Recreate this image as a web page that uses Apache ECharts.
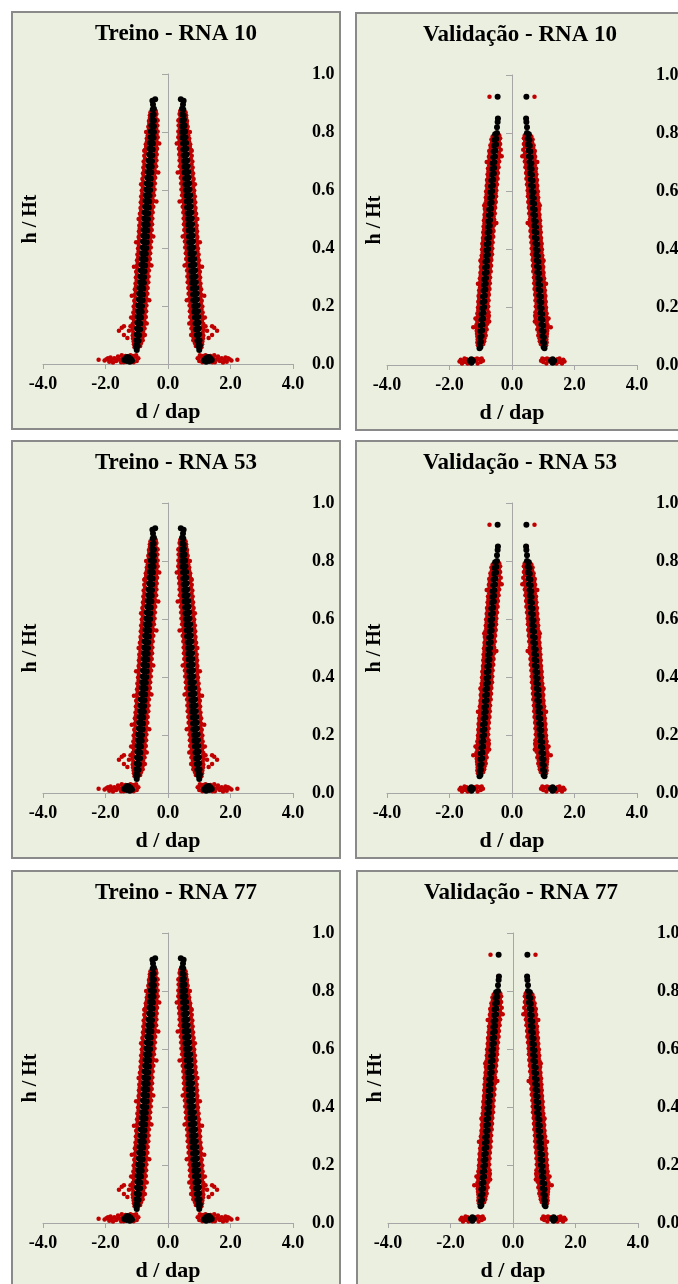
<!DOCTYPE html>
<html>
<head>
<meta charset="utf-8">
<script src="https://cdn.jsdelivr.net/npm/echarts@6/dist/echarts.min.js"></script>
<style>
  html, body { margin: 0; padding: 0; background: #fff; overflow: hidden; width: 678px; height: 1284px; }
  .painel { position: absolute; width: 330px; height: 419px; box-sizing: border-box; border: 2px solid #8a8a8a; background: #ebefdf; }
  .painel .grafico { position: absolute; left: 0; top: 0; width: 326px; height: 415px; }
</style>
</head>
<body>
<div class="painel" style="left:11px;top:11px"><div class="grafico" id="g1"></div></div>
<div class="painel" style="left:355px;top:12px"><div class="grafico" id="g2"></div></div>
<div class="painel" style="left:11px;top:440px"><div class="grafico" id="g3"></div></div>
<div class="painel" style="left:355px;top:440px"><div class="grafico" id="g4"></div></div>
<div class="painel" style="left:11px;top:870px"><div class="grafico" id="g5"></div></div>
<div class="painel" style="left:356px;top:870px"><div class="grafico" id="g6"></div></div>
<script>
// perfil do fuste: pontos de um lado (d/dap > 0), o outro lado é o espelho
var titulos = ['Treino - RNA 10', 'Validação - RNA 10', 'Treino - RNA 53', 'Validação - RNA 53', 'Treino - RNA 77', 'Validação - RNA 77'];
var ticksX = [-4, -2, 0, 2, 4];
var ticksY = [0, 0.2, 0.4, 0.6, 0.8, 1.0];

// observado - treino (vermelho)
var treinoObs = [
  [0.39,0.872],[0.56,0.868],[0.37,0.862],[0.58,0.858],[0.40,0.852],[0.58,0.848],[0.36,0.842],[0.61,0.838],
  [0.39,0.832],[0.60,0.828],[0.34,0.822],[0.63,0.818],[0.38,0.812],[0.61,0.808],[0.33,0.802],[0.65,0.798],
  [0.37,0.792],[0.65,0.788],[0.33,0.782],[0.68,0.778],[0.37,0.772],[0.67,0.768],[0.34,0.762],[0.71,0.758],
  [0.38,0.752],[0.70,0.748],[0.35,0.742],[0.74,0.738],[0.39,0.732],[0.71,0.728],[0.36,0.722],[0.76,0.718],
  [0.40,0.712],[0.73,0.708],[0.37,0.702],[0.78,0.698],[0.42,0.692],[0.75,0.688],[0.38,0.682],[0.79,0.678],
  [0.43,0.672],[0.76,0.668],[0.39,0.662],[0.80,0.658],[0.44,0.652],[0.78,0.648],[0.41,0.642],[0.82,0.638],
  [0.46,0.632],[0.79,0.628],[0.42,0.622],[0.83,0.618],[0.47,0.612],[0.80,0.608],[0.43,0.602],[0.84,0.598],
  [0.48,0.592],[0.82,0.588],[0.45,0.582],[0.86,0.578],[0.50,0.572],[0.83,0.568],[0.46,0.562],[0.87,0.558],
  [0.51,0.552],[0.84,0.548],[0.47,0.542],[0.88,0.538],[0.52,0.532],[0.86,0.528],[0.49,0.522],[0.90,0.518],
  [0.54,0.512],[0.87,0.508],[0.50,0.502],[0.91,0.498],[0.55,0.492],[0.88,0.488],[0.51,0.482],[0.92,0.478],
  [0.56,0.472],[0.90,0.468],[0.52,0.462],[0.93,0.458],[0.57,0.452],[0.91,0.448],[0.53,0.442],[0.94,0.438],
  [0.58,0.432],[0.92,0.428],[0.54,0.422],[0.95,0.418],[0.59,0.412],[0.93,0.408],[0.55,0.402],[0.96,0.398],
  [0.61,0.392],[0.94,0.388],[0.57,0.382],[0.98,0.378],[0.62,0.372],[0.95,0.368],[0.58,0.362],[0.99,0.358],
  [0.63,0.352],[0.97,0.348],[0.59,0.342],[1.00,0.338],[0.65,0.332],[0.98,0.328],[0.61,0.322],[1.02,0.318],
  [0.66,0.312],[0.99,0.308],[0.62,0.302],[1.03,0.298],[0.67,0.292],[1.00,0.288],[0.63,0.282],[1.04,0.278],
  [0.69,0.272],[1.02,0.268],[0.65,0.262],[1.06,0.258],[0.70,0.252],[1.03,0.248],[0.66,0.242],[1.07,0.238],
  [0.71,0.232],[1.04,0.228],[0.67,0.222],[1.08,0.218],[0.72,0.212],[1.05,0.208],[0.69,0.202],[1.10,0.198],
  [0.74,0.192],[1.07,0.188],[0.70,0.182],[1.11,0.178],[0.75,0.172],[1.08,0.168],[0.71,0.162],[1.12,0.158],
  [0.76,0.152],[1.09,0.148],[0.73,0.142],[1.13,0.138],[0.78,0.132],[1.11,0.128],[0.75,0.122],[1.14,0.118],
  [0.80,0.112],[1.11,0.108],[0.77,0.102],[1.13,0.098],[0.82,0.092],[1.12,0.088],[0.81,0.082],[1.10,0.078],
  [0.86,0.072],[1.09,0.068],[0.89,0.062],[1.07,0.058],
  [0.28,0.76],[0.76,0.735],[0.31,0.66],[0.86,0.62],[0.37,0.56],[0.94,0.50],[0.47,0.44],[1.02,0.42],
  [0.53,0.34],[1.09,0.335],[0.60,0.22],[1.16,0.235],[0.68,0.14],[0.74,0.10],[1.18,0.16],[0.33,0.84],[0.70,0.80],
  [1.25,0.115],[1.41,0.13],[1.57,0.115],[1.41,0.10],[1.30,0.09],[1.48,0.125],[1.20,0.13],
  [0.95,0.02],[1.00,0.01],[1.05,0.025],[1.10,0.006],[1.15,0.02],[1.20,0.03],[1.28,0.012],[1.36,0.028],
  [1.45,0.02],[1.50,0.006],[1.55,0.016],[1.60,0.026],[1.66,0.01],[1.72,0.02],[1.80,0.014],[1.88,0.008],
  [1.97,0.016],[2.22,0.015],[1.42,0.006],[1.76,0.005],[1.02,0.03],[1.12,0.028],[1.48,0.03],[1.62,0.015],
  [1.84,0.022],[1.92,0.02],[2.03,0.012]
];

// estimado pela RNA - treino (preto)
var treinoPred = [
  [0.41,0.913],[0.50,0.908],[0.48,0.895],
  [0.45,0.88],[0.49,0.878],[0.46,0.86],[0.50,0.858],[0.45,0.84],[0.48,0.838],[0.51,0.842],
  [0.45,0.82],[0.49,0.818],[0.53,0.822],[0.45,0.80],[0.50,0.798],[0.55,0.802],[0.46,0.78],[0.51,0.778],[0.56,0.782],
  [0.48,0.76],[0.53,0.758],[0.58,0.762],[0.49,0.74],[0.54,0.738],[0.59,0.742],[0.50,0.72],[0.55,0.718],[0.60,0.722],
  [0.51,0.70],[0.57,0.698],[0.62,0.702],[0.52,0.68],[0.58,0.678],[0.63,0.682],[0.53,0.66],[0.59,0.658],[0.65,0.662],
  [0.55,0.64],[0.61,0.638],[0.66,0.642],[0.56,0.62],[0.62,0.618],[0.68,0.622],[0.57,0.60],[0.63,0.598],[0.69,0.602],
  [0.59,0.58],[0.65,0.578],[0.71,0.582],[0.60,0.56],[0.66,0.558],[0.72,0.562],[0.61,0.54],[0.67,0.538],[0.73,0.542],
  [0.63,0.52],[0.69,0.518],[0.75,0.522],[0.64,0.50],[0.70,0.498],[0.76,0.502],[0.65,0.48],[0.71,0.478],[0.77,0.482],
  [0.66,0.46],[0.72,0.458],[0.78,0.462],[0.67,0.44],[0.73,0.438],[0.79,0.442],[0.68,0.42],[0.74,0.418],[0.80,0.422],
  [0.69,0.40],[0.75,0.398],[0.81,0.402],[0.71,0.38],[0.77,0.378],[0.83,0.382],[0.72,0.36],[0.78,0.358],[0.84,0.362],
  [0.73,0.34],[0.79,0.338],[0.85,0.342],[0.75,0.32],[0.81,0.318],[0.87,0.322],[0.76,0.30],[0.82,0.298],[0.88,0.302],
  [0.77,0.28],[0.83,0.278],[0.89,0.282],[0.79,0.26],[0.85,0.258],[0.91,0.262],[0.80,0.24],[0.86,0.238],[0.92,0.242],
  [0.81,0.22],[0.87,0.218],[0.93,0.222],[0.83,0.20],[0.89,0.198],[0.95,0.202],[0.84,0.18],[0.90,0.178],[0.96,0.182],
  [0.86,0.16],[0.91,0.158],[0.97,0.162],[0.88,0.14],[0.93,0.138],[0.98,0.142],[0.89,0.12],[0.94,0.118],[0.99,0.122],
  [0.92,0.10],[0.96,0.098],[1.00,0.102],[0.94,0.08],[0.97,0.078],[1.01,0.082],[0.97,0.062],[1.00,0.058],[1.02,0.064],
  [1.00,0.048],
  [1.15,0.012],[1.20,0.018],[1.25,0.022],[1.30,0.024],[1.35,0.02],[1.40,0.014],[1.22,0.008],[1.32,0.01],[1.27,0.015]
];

// observado - validação (vermelho)
var validObs = [
  [0.72,0.925],[0.47,0.85],
  [0.41,0.792],[0.62,0.788],[0.38,0.782],[0.66,0.778],[0.42,0.772],[0.64,0.768],[0.38,0.762],[0.69,0.758],
  [0.42,0.752],[0.68,0.748],[0.36,0.742],[0.73,0.738],[0.42,0.732],[0.71,0.728],[0.38,0.722],[0.74,0.718],
  [0.44,0.712],[0.72,0.708],[0.41,0.702],[0.76,0.698],[0.46,0.692],[0.73,0.688],[0.43,0.682],[0.77,0.678],
  [0.48,0.672],[0.75,0.668],[0.45,0.662],[0.78,0.658],[0.49,0.652],[0.76,0.648],[0.46,0.642],[0.80,0.638],
  [0.51,0.632],[0.78,0.628],[0.48,0.622],[0.81,0.618],[0.52,0.612],[0.79,0.608],[0.50,0.602],[0.83,0.598],
  [0.53,0.592],[0.81,0.588],[0.51,0.582],[0.84,0.578],[0.55,0.572],[0.82,0.568],[0.52,0.562],[0.85,0.558],
  [0.56,0.552],[0.84,0.548],[0.54,0.542],[0.87,0.538],[0.58,0.532],[0.85,0.528],[0.55,0.522],[0.88,0.518],
  [0.59,0.512],[0.87,0.508],[0.57,0.502],[0.90,0.498],[0.61,0.492],[0.88,0.488],[0.58,0.482],[0.91,0.478],
  [0.62,0.472],[0.89,0.468],[0.59,0.462],[0.92,0.458],[0.63,0.452],[0.90,0.448],[0.60,0.442],[0.93,0.438],
  [0.65,0.432],[0.92,0.428],[0.62,0.422],[0.95,0.418],[0.66,0.412],[0.93,0.408],[0.63,0.402],[0.96,0.398],
  [0.67,0.392],[0.94,0.388],[0.64,0.382],[0.97,0.378],[0.68,0.372],[0.96,0.368],[0.66,0.362],[0.99,0.358],
  [0.70,0.352],[0.97,0.348],[0.67,0.342],[1.00,0.338],[0.71,0.332],[0.98,0.328],[0.68,0.322],[1.01,0.318],
  [0.73,0.312],[1.00,0.308],[0.70,0.302],[1.03,0.298],[0.74,0.292],[1.01,0.288],[0.71,0.282],[1.04,0.278],
  [0.75,0.272],[1.02,0.268],[0.72,0.262],[1.05,0.258],[0.76,0.252],[1.04,0.248],[0.74,0.242],[1.07,0.238],
  [0.78,0.232],[1.05,0.228],[0.75,0.222],[1.08,0.218],[0.79,0.212],[1.06,0.208],[0.76,0.202],[1.09,0.198],
  [0.80,0.192],[1.08,0.188],[0.75,0.182],[1.11,0.178],[0.81,0.172],[1.09,0.168],[0.76,0.162],[1.13,0.158],
  [0.83,0.152],[1.11,0.148],[0.79,0.142],[1.14,0.138],[0.84,0.132],[1.12,0.128],[0.81,0.122],[1.13,0.118],
  [0.86,0.112],[1.12,0.108],[0.84,0.102],[1.11,0.098],[0.88,0.092],[1.10,0.088],[0.89,0.082],[1.11,0.078],
  [0.92,0.072],[1.09,0.068],
  [0.33,0.72],[0.81,0.70],[0.89,0.55],[0.50,0.49],[1.01,0.36],[1.09,0.28],[1.17,0.16],[1.24,0.13],
  [0.73,0.15],[0.74,0.17],
  [0.93,0.015],[1.00,0.01],[1.05,0.02],[1.10,0.005],[1.15,0.015],[1.20,0.02],[1.38,0.01],[1.45,0.02],
  [1.50,0.01],[1.55,0.015],[1.60,0.005],[1.68,0.012],[0.97,0.022],[1.42,0.005],[1.52,0.022],[1.64,0.018],[1.12,0.022]
];

// estimado pela RNA - validação (preto)
var validPred = [
  [0.46,0.925],[0.45,0.85],[0.46,0.838],[0.48,0.82],
  [0.48,0.80],[0.54,0.796],[0.50,0.78],[0.56,0.776],[0.51,0.76],[0.57,0.756],[0.53,0.74],[0.59,0.736],
  [0.54,0.72],[0.60,0.716],[0.56,0.70],[0.62,0.696],[0.57,0.68],[0.63,0.676],[0.58,0.66],[0.64,0.656],
  [0.60,0.64],[0.66,0.636],[0.61,0.62],[0.67,0.616],[0.63,0.60],[0.69,0.596],[0.64,0.58],[0.70,0.576],
  [0.65,0.56],[0.71,0.556],[0.67,0.54],[0.73,0.536],[0.68,0.52],[0.74,0.516],[0.70,0.50],[0.76,0.496],
  [0.71,0.48],[0.77,0.476],[0.72,0.46],[0.78,0.456],[0.73,0.44],[0.79,0.436],[0.75,0.42],[0.81,0.416],
  [0.76,0.40],[0.82,0.396],[0.77,0.38],[0.83,0.376],[0.79,0.36],[0.85,0.356],[0.80,0.34],[0.86,0.336],
  [0.81,0.32],[0.87,0.316],[0.83,0.30],[0.89,0.296],[0.84,0.28],[0.90,0.276],[0.85,0.26],[0.91,0.256],
  [0.87,0.24],[0.93,0.236],[0.88,0.22],[0.94,0.216],[0.89,0.20],[0.95,0.196],[0.91,0.18],[0.97,0.176],
  [0.92,0.16],[0.98,0.156],[0.94,0.14],[1.00,0.136],[0.95,0.12],[1.01,0.116],[0.97,0.10],[1.02,0.096],
  [0.99,0.08],[1.03,0.076],[1.01,0.062],[1.04,0.058],
  [1.25,0.015],[1.30,0.02],[1.35,0.015],[1.30,0.008],[1.28,0.012]
];

var fonte = "'Liberation Serif', 'Times New Roman', serif";

function espelhar(pts) {
  var out = [];
  pts.forEach(function (p) { out.push([p[0], p[1]]); out.push([-p[0], p[1]]); });
  return out;
}

function opcoes(titulo, obs, pred) {
  var cinza = '#a6a6a6';
  var rot = { fontFamily: fonte, fontWeight: 'bold', color: '#000' };
  return {
    animation: false,
    title: {
      text: titulo, left: 'center', top: 10, padding: 0,
      textStyle: { fontFamily: fonte, fontWeight: 'bold', fontSize: 23, color: '#000' }
    },
    grid: { left: 29, top: 61, width: 251, height: 291 },
    xAxis: {
      type: 'value', min: ticksX[0], max: ticksX[ticksX.length - 1], interval: 2,
      axisLine: { lineStyle: { color: cinza, width: 1 } },
      axisTick: { length: 5, lineStyle: { color: cinza } },
      splitLine: { show: false },
      axisLabel: Object.assign({ fontSize: 18, margin: 11, formatter: function (v) { return v.toFixed(1); } }, rot),
      name: 'd / dap', nameLocation: 'middle', nameGap: 37,
      nameTextStyle: Object.assign({ fontSize: 22 }, rot)
    },
    yAxis: [
      {
        type: 'value', min: 0, max: 1, interval: 0.2, position: 'left',
        axisLine: { show: true, onZero: true, lineStyle: { color: cinza, width: 1 } },
        axisTick: { show: true, length: 6, lineStyle: { color: cinza } },
        axisLabel: { show: false }, splitLine: { show: false }
      },
      {
        type: 'value', min: 0, max: 1, interval: 0.2, position: 'right',
        axisLine: { show: false }, axisTick: { show: false }, splitLine: { show: false },
        axisLabel: Object.assign({ fontSize: 18, margin: 19, formatter: function (v) { return v.toFixed(1); } }, rot)
      },
      {
        type: 'value', min: 0, max: 1, position: 'left',
        axisLine: { show: false }, axisTick: { show: false }, axisLabel: { show: false }, splitLine: { show: false },
        name: 'h / Ht', nameLocation: 'middle', nameGap: 2,
        nameTextStyle: Object.assign({ fontSize: 20 }, rot)
      }
    ],
    series: [
      { name: 'Observado', type: 'scatter', yAxisIndex: 0, data: espelhar(obs), symbolSize: 4.5,
        itemStyle: { color: '#c00000', opacity: 1 }, silent: true },
      { name: 'Estimado', type: 'scatter', yAxisIndex: 0, data: espelhar(pred), symbolSize: 6,
        itemStyle: { color: '#000000', opacity: 1 }, silent: true }
    ]
  };
}

var paineis = [
  [treinoObs, treinoPred], [validObs, validPred],
  [treinoObs, treinoPred], [validObs, validPred],
  [treinoObs, treinoPred], [validObs, validPred]
];
paineis.forEach(function (p, i) {
  var chart = echarts.init(document.getElementById('g' + (i + 1)));
  chart.setOption(opcoes(titulos[i], p[0], p[1]));
});
</script>
</body>
</html>
